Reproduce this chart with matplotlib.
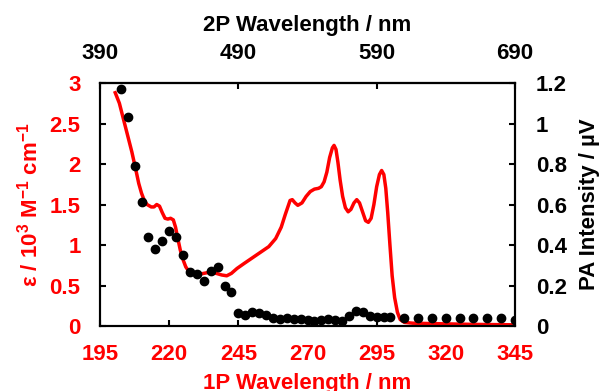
import numpy as np
import matplotlib
matplotlib.use("Agg")
import matplotlib.pyplot as plt

plt.rcParams['font.family'] = ['Liberation Sans', 'DejaVu Sans']
plt.rcParams['font.weight'] = 'bold'
plt.rcParams['mathtext.fontset'] = 'custom'
plt.rcParams['mathtext.rm'] = 'Liberation Sans:bold'
plt.rcParams['mathtext.it'] = 'Liberation Sans:bold'
plt.rcParams['mathtext.bf'] = 'Liberation Sans:bold'
plt.rcParams['mathtext.default'] = 'regular'

# Data
# 1P absorption spectrum (epsilon / 10^3 M^-1 cm^-1)
abs_wl = [200.5, 202, 203.5, 205, 206.5, 208, 209, 210, 211, 212, 213.5, 214.5,
          215.5, 216.5, 217.5, 218.5, 219.5, 220.5, 221.5, 222.3, 223, 224, 225,
          226, 227, 228.5, 231, 234, 237, 239, 240.8, 242.5, 244.5, 247, 250,
          253, 256, 258.5, 260.5, 262, 263.7, 264.5, 265.5, 266.5, 268, 269.5,
          271, 272.5, 274, 275, 276, 277, 278, 279, 279.6, 280.3, 281, 281.8,
          282.7, 283.7, 284.7, 285.7, 286.8, 287.8, 288.8, 290, 291, 292, 293,
          294, 295, 296, 296.8, 297.6, 298.3, 299, 299.8, 300.6, 301.5, 302.5,
          303.5, 305, 308, 315, 330, 345]
abs_eps = [2.88, 2.75, 2.55, 2.35, 2.15, 1.92, 1.76, 1.64, 1.55, 1.50, 1.47, 1.47,
           1.50, 1.48, 1.40, 1.33, 1.32, 1.33, 1.31, 1.22, 1.10, 0.94, 0.82,
           0.73, 0.68, 0.65, 0.64, 0.66, 0.65, 0.63, 0.62, 0.65, 0.71, 0.77, 0.84,
           0.91, 0.98, 1.08, 1.22, 1.38, 1.55, 1.56, 1.52, 1.49, 1.52, 1.60,
           1.66, 1.69, 1.70, 1.72, 1.78, 1.90, 2.08, 2.20, 2.23, 2.18, 2.02, 1.80,
           1.60, 1.46, 1.41, 1.44, 1.52, 1.56, 1.52, 1.40, 1.30, 1.28, 1.33,
           1.50, 1.72, 1.87, 1.92, 1.87, 1.70, 1.40, 1.00, 0.62, 0.35, 0.17,
           0.08, 0.045, 0.035, 0.03, 0.02, 0.015]

# 2P photoacoustic intensity (uV), plotted against half the 2P wavelength
pa_wl = [202.5, 205, 207.5, 210, 212.5, 215, 217.5, 220, 222.5, 225, 227.5, 230,
         232.5, 235, 237.5, 240, 242.5, 245, 247.5, 250, 252.5, 255, 257.5, 260,
         262.5, 265, 267.5, 270, 272.5, 275, 277.5, 280, 282.5, 285, 287.5, 290,
         292.5, 295, 297.5, 300, 305, 310, 315, 320, 325, 330, 335, 340, 345]
pa_int = [1.17, 1.03, 0.79, 0.61, 0.44, 0.38, 0.42, 0.47, 0.44, 0.35, 0.265, 0.255,
          0.22, 0.27, 0.29, 0.20, 0.17, 0.063, 0.055, 0.068, 0.066, 0.052, 0.040,
          0.036, 0.038, 0.033, 0.033, 0.030, 0.027, 0.030, 0.037, 0.030, 0.027,
          0.048, 0.076, 0.071, 0.050, 0.045, 0.045, 0.045, 0.040, 0.040, 0.040,
          0.040, 0.040, 0.040, 0.040, 0.040, 0.030]

bottom_ticks = [195, 220, 245, 270, 295, 320, 345]
top_ticks = [390, 490, 590, 690]

RED = '#ff0000'
FS = 16

fig = plt.figure(figsize=(6, 3.91), dpi=100)
ax = fig.add_axes([0.1667, 0.1662, 0.6916, 0.6215])
ax2 = ax.twinx()

ax.plot(abs_wl, abs_eps, color=RED, linewidth=2.5, zorder=2,
        solid_joinstyle='round')
ax2.plot(pa_wl, pa_int, 'o', color='black', markersize=6, zorder=3)
ax.set_zorder(1)
ax2.set_zorder(2)
ax2.patch.set_visible(False)

ax.set_xlim(195, 345)
ax.set_ylim(0, 3)
ax2.set_ylim(0, 1.2)
ax.set_xticks(bottom_ticks)
ax.set_yticks(np.arange(0, 3.01, 0.5))
ax2.set_yticks(np.arange(0, 1.21, 0.2))
ax.set_yticklabels(['0', '0.5', '1', '1.5', '2', '2.5', '3'])
ax2.set_yticklabels(['0', '0.2', '0.4', '0.6', '0.8', '1', '1.2'])

for a in (ax, ax2):
    for s in a.spines.values():
        s.set_linewidth(1.5)
        s.set_color('black')

ax.tick_params(axis='x', direction='in', length=4, width=1.5, labelsize=FS,
               labelcolor=RED, pad=13)
ax.tick_params(axis='y', direction='in', length=4, width=1.5, labelsize=FS,
               labelcolor=RED, pad=14)
ax2.tick_params(axis='y', direction='in', length=4, width=1.5, labelsize=FS,
                labelcolor='black', pad=15)

top = ax.secondary_xaxis('top', functions=(lambda x: 2 * x, lambda x: x / 2))
top.set_xticks(top_ticks)
top.tick_params(direction='in', length=4, width=1.5, labelsize=FS, pad=14)
top.spines['top'].set_linewidth(1.5)
top.set_xlabel('2P Wavelength / nm', fontsize=FS, fontweight='bold', labelpad=8)

ax.set_xlabel('1P Wavelength / nm', fontsize=FS, fontweight='bold', color=RED,
              labelpad=6)
ax.set_ylabel('ε / 10$^{3}$ M$^{-1}$ cm$^{-1}$', fontsize=FS, fontweight='bold',
              color=RED, labelpad=5)
ax2.set_ylabel('PA Intensity / µV', fontsize=FS, fontweight='bold', labelpad=9)

fig.savefig('out.png', dpi=100)
